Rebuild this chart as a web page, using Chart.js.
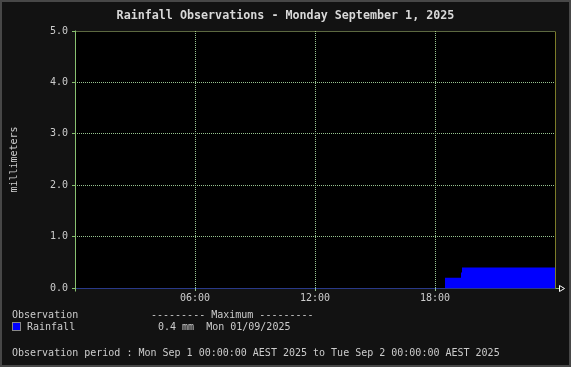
<!DOCTYPE html>
<html>
<head>
<meta charset="utf-8">
<script src="https://cdn.jsdelivr.net/npm/chart.js@4/dist/chart.umd.min.js"></script>
<style>
  html, body { margin: 0; padding: 0; background: #121212; }
  #wrap { position: relative; width: 571px; height: 367px; overflow: hidden; }
  #wrap canvas { position: absolute; left: 0; top: 0; }
  .txt {
    position: absolute; font-family: "DejaVu Sans Mono", monospace; font-size: 10px;
    line-height: 12px; color: #cccccc; white-space: pre;
  }
  #title { left: 0; width: 571px; top: 7px; text-align: center; font-size: 11.7px; font-weight: bold; line-height: 16px; color: #d8d8d8; }
  #swatch { position: absolute; left: 12px; top: 322px; width: 7px; height: 7px; border: 1px solid #888; }
</style>
</head>
<body>
<div id="wrap">
  <canvas id="chart" width="571" height="367"></canvas>
  <div id="title" class="txt"></div>
  <div class="txt" style="left:12px; top:309px;">Observation</div>
  <div class="txt" style="left:151px; top:309px;">--------- Maximum ---------</div>
  <div id="swatch"></div>
  <div id="series-name" class="txt" style="left:27px; top:321px;"></div>
  <div id="series-max" class="txt" style="left:158px; top:321px;"></div>
  <div id="period" class="txt" style="left:12px; top:347px;"></div>
</div>
<script>
// Daily rainfall graph (rrdtool look): step area of accumulated rain per day.

const TITLE = "Rainfall Observations - Monday September 1, 2025";
const Y_TITLE = "millimeters";
const SERIES_NAME = "Rainfall";
const MAX_DATE = "Mon 01/09/2025";
const PERIOD = "Observation period : Mon Sep 1 00:00:00 AEST 2025 to Tue Sep 2 00:00:00 AEST 2025";

// time of each reading (local) and the running total from then on
const obsTimes = ["00:00", "18:30", "19:18", "19:21", "24:00"];
const rainfallMm = [0, 0.2, 0.3, 0.4, 0.4];

const xTickHours = [6, 12, 18];
const yTickValues = [0, 1, 2, 3, 4, 5];

const GRID = "#98c490";
const AXIS_LEFT = "#88c070";
const AXIS_RIGHT = "#7c7c28";
const FILL = "#0000ff";
const FONT = "DejaVu Sans Mono";

function toHours(t) {
  const [h, m] = t.split(":").map(Number);
  return h + m / 60;
}

function pad2(n) {
  return String(n).padStart(2, "0");
}

document.getElementById("title").textContent = TITLE;
document.getElementById("series-name").textContent = SERIES_NAME;
document.getElementById("series-max").textContent =
  Math.max(...rainfallMm).toFixed(1) + " mm  " + MAX_DATE;
document.getElementById("period").textContent = PERIOD;
document.getElementById("swatch").style.background = FILL;

// axis lines, baseline and arrow drawn on top of the grid
const axesPlugin = {
  id: "rrdAxes",
  afterDatasetsDraw(chart) {
    const { ctx } = chart;
    const x = chart.scales.x;
    const y = chart.scales.y;
    const y0 = Math.round(y.getPixelForValue(0)) + 0.5;
    const yTop = Math.round(y.getPixelForValue(5)) + 0.5;
    const xL = Math.round(x.getPixelForValue(0)) + 0.5;
    const xR = Math.round(x.getPixelForValue(24)) + 0.5;
    ctx.save();
    ctx.lineWidth = 1;

    // top dotted line
    ctx.setLineDash([1, 1]);
    ctx.strokeStyle = "#b8d080";
    ctx.beginPath(); ctx.moveTo(xL, yTop); ctx.lineTo(xR, yTop); ctx.stroke();

    // blue dotted baseline
    ctx.strokeStyle = "#4060ff";
    ctx.beginPath(); ctx.moveTo(xL, y0); ctx.lineTo(xR, y0); ctx.stroke();
    ctx.setLineDash([]);

    // left axis
    ctx.strokeStyle = AXIS_LEFT;
    ctx.beginPath(); ctx.moveTo(xL, yTop - 1); ctx.lineTo(xL, y0 + 3); ctx.stroke();

    // right border
    ctx.strokeStyle = AXIS_RIGHT;
    ctx.beginPath(); ctx.moveTo(xR, yTop); ctx.lineTo(xR, y0); ctx.stroke();

    // arrow at the end of the time axis
    ctx.strokeStyle = AXIS_LEFT;
    ctx.beginPath(); ctx.moveTo(xR, y0); ctx.lineTo(xR + 4, y0); ctx.stroke();
    ctx.strokeStyle = "#ffffff";
    ctx.beginPath();
    ctx.moveTo(xR + 4, y0 - 3);
    ctx.lineTo(xR + 9, y0);
    ctx.lineTo(xR + 4, y0 + 3);
    ctx.closePath();
    ctx.stroke();

    // outer frame
    ctx.strokeStyle = "#474747";
    ctx.lineWidth = 2;
    ctx.strokeRect(1, 1, chart.width - 2, chart.height - 2);
    ctx.restore();
  },
  beforeDraw(chart) {
    const { ctx, chartArea: a } = chart;
    ctx.save();
    ctx.fillStyle = "#000000";
    ctx.fillRect(a.left, a.top, a.right - a.left, a.bottom - a.top);
    ctx.restore();
  },
};

new Chart(document.getElementById("chart"), {
  type: "line",
  data: {
    datasets: [
      {
        label: SERIES_NAME,
        data: obsTimes.map((t, i) => ({ x: toHours(t), y: rainfallMm[i] })),
        stepped: true,
        fill: "origin",
        backgroundColor: FILL,
        borderWidth: 0,
        pointRadius: 0,
      },
    ],
  },
  options: {
    responsive: false,
    animation: false,
    parsing: false,
    layout: { padding: { top: 31, right: 16, left: 0, bottom: 0 } },
    plugins: { legend: { display: false }, title: { display: false }, tooltip: { enabled: false } },
    scales: {
      x: {
        type: "linear",
        min: 0,
        max: 24,
        afterFit: (s) => { s.height = 79; },
        afterBuildTicks: (s) => { s.ticks = xTickHours.map((v) => ({ value: v })); },
        ticks: {
          color: "#cccccc",
          font: { family: FONT, size: 10 },
          padding: 1,
          maxRotation: 0,
          callback: (v) => pad2(v) + ":00",
        },
        grid: { color: GRID, tickLength: 3, tickColor: GRID },
        border: { display: false, dash: [1, 1] },
      },
      y: {
        min: 0,
        max: 5,
        afterFit: (s) => { s.width = 75; },
        afterBuildTicks: (s) => { s.ticks = yTickValues.map((v) => ({ value: v })); },
        ticks: {
          color: "#cccccc",
          font: { family: FONT, size: 10 },
          padding: 4,
          callback: (v) => v.toFixed(1),
        },
        grid: {
          color: (c) => (c.tick && (c.tick.value === 0 || c.tick.value === 5) ? "rgba(0,0,0,0)" : GRID),
          tickLength: 3,
          tickColor: AXIS_LEFT,
        },
        border: { display: false, dash: [1, 1] },
        title: {
          display: true,
          text: Y_TITLE,
          color: "#cccccc",
          font: { family: FONT, size: 10 },
          padding: { top: 8, bottom: 0 },
        },
      },
    },
  },
  plugins: [axesPlugin],
});
</script>
</body>
</html>
